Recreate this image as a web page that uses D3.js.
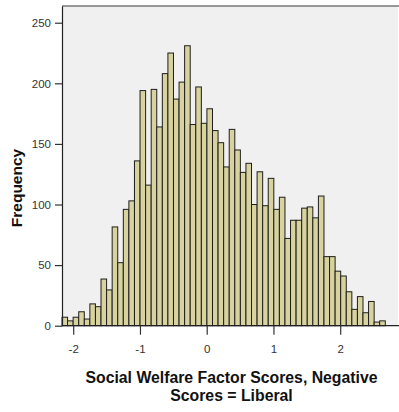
<!DOCTYPE html>
<html>
<head>
<meta charset="utf-8">
<script src="https://cdn.jsdelivr.net/npm/d3@7"></script>
<style>
  body { margin: 0; background: #fff; }
  svg { display: block; font-family: "Liberation Sans", Arial, sans-serif; }
</style>
</head>
<body>
<svg id="chart"></svg>
<script>
// histogram bins: first left edge and width (in score units)
const binStart = -2.168;
const binWidth = 0.08351;
// frequency per bin, left to right
const counts = [
  7, 4, 7, 11.5, 5.5, 18, 15.7, 38.5, 29.5, 81.5,
  52, 96, 103, 136, 194, 116, 195, 164, 208, 225,
  187, 201, 231, 166, 197, 167, 179, 161, 151, 131,
  162, 145, 126.5, 134, 100, 127, 99, 121.6, 96, 106,
  72, 87, 87, 97, 98, 89, 107, 57, 57, 45,
  41, 28, 13.5, 24, 10.7, 20, 3, 4
];
const xTicks = [-2, -1, 0, 1, 2];
const yTicks = [0, 50, 100, 150, 200, 250];

const width = 399, height = 412;
const margin = { top: 6, right: 1, bottom: 86.3, left: 62 };

const svg = d3.select("#chart").attr("width", width).attr("height", height);

const x = d3.scaleLinear().domain([-2.168, 2.866]).range([margin.left, width - margin.right]);
const y = d3.scaleLinear().domain([0, 263.8]).range([height - margin.bottom, margin.top]);

const bins = counts.map((c, i) => ({ x0: binStart + i * binWidth, x1: binStart + (i + 1) * binWidth, n: c }));

// plot background
svg.append("rect")
  .attr("x", margin.left).attr("y", margin.top)
  .attr("width", width - margin.right - margin.left)
  .attr("height", y(0) - margin.top)
  .attr("fill", "#f0f0f0");

// top frame line
svg.append("line")
  .attr("x1", margin.left).attr("x2", width)
  .attr("y1", margin.top).attr("y2", margin.top)
  .attr("stroke", "#777").attr("stroke-width", 1.5);

svg.append("g").selectAll("rect")
  .data(bins)
  .join("rect")
  .attr("x", d => x(d.x0))
  .attr("y", d => y(d.n))
  .attr("width", d => x(d.x1) - x(d.x0))
  .attr("height", d => y(0) - y(d.n))
  .attr("fill", "#d7d29e")
  .attr("stroke", "#1e1e1e")
  .attr("stroke-width", 1);

// x axis
const xAxis = svg.append("g")
  .attr("transform", `translate(0, ${y(0)})`)
  .call(d3.axisBottom(x).tickValues(xTicks).tickSize(9).tickSizeOuter(0).tickFormat(d => String(d)));
xAxis.select(".domain").attr("stroke", "#222").attr("stroke-width", 1.2).attr("d", `M${margin.left},0H${width}`);
xAxis.selectAll(".tick line").attr("stroke", "#333").attr("stroke-width", 1.2);
xAxis.selectAll("text").attr("font-size", 11.5).attr("fill", "#333").attr("dy", "1.3em");

// y axis
const yAxis = svg.append("g")
  .attr("transform", `translate(${margin.left}, 0)`)
  .call(d3.axisLeft(y).tickValues(yTicks).tickSize(7).tickSizeOuter(0));
yAxis.select(".domain").attr("stroke", "#222").attr("stroke-width", 1.2);
yAxis.selectAll(".tick line").attr("stroke", "#333").attr("stroke-width", 1.2);
yAxis.selectAll("text").attr("font-size", 11.5).attr("fill", "#333").attr("x", -11);

// axis titles
const xTitle = svg.append("text")
  .attr("text-anchor", "middle")
  .attr("font-size", 15.8).attr("font-weight", "bold").attr("fill", "#111");
xTitle.append("tspan").attr("x", 231.5).attr("y", 382.5).text("Social Welfare Factor Scores, Negative");
xTitle.append("tspan").attr("x", 231.5).attr("y", 401).text("Scores = Liberal");

svg.append("text")
  .attr("transform", "translate(21.5, 188) rotate(-90)")
  .attr("text-anchor", "middle")
  .attr("font-size", 15.5).attr("font-weight", "bold").attr("fill", "#111")
  .text("Frequency");
</script>
</body>
</html>
